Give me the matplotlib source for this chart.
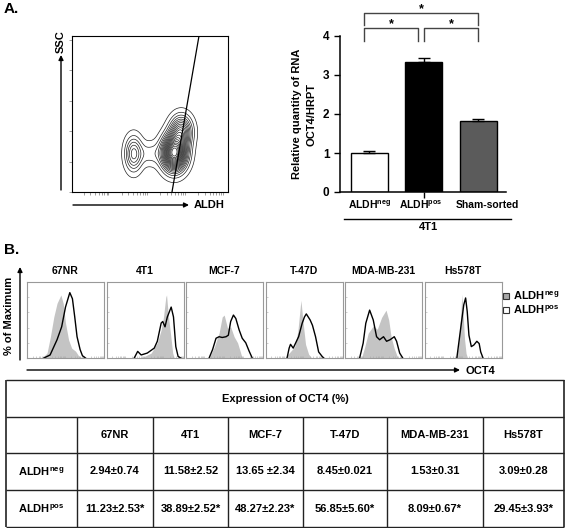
import numpy as np
import matplotlib.pyplot as plt

plt.rcParams['font.family'] = ['Liberation Sans', 'DejaVu Sans']
plt.rcParams['font.weight'] = 'bold'
plt.rcParams['mathtext.fontset'] = 'custom'
plt.rcParams['mathtext.rm'] = 'Liberation Sans:bold'
plt.rcParams['mathtext.it'] = 'Liberation Sans:bold'
plt.rcParams['mathtext.bf'] = 'Liberation Sans:bold'

W, H = 567, 528

# ---- panel A : flow plot (ALDH vs SSC), blobs ----
blob_x = [395, 655, 700, 500]
blob_y = [245, 250, 390, 245]
blob_sx = [36, 50, 45, 50]
blob_sy = [72, 72, 65, 50]
blob_w = [0.3, 1.0, 0.45, 0.1]
gate_x = [641, 814]
gate_y = [0, 1000]

# ---- panel A : qPCR bars ----
groups = ['ALDH$^{\\mathrm{neg}}$', 'ALDH$^{\\mathrm{pos}}$', 'Sham-sorted']
rel_rna = [1.01, 3.33, 1.83]
rel_err = [0.03, 0.11, 0.05]
bar_colors = ['white', 'black', '#5b5b5b']
br_left = [-0.1, 1.0, -0.1]
br_right = [0.9, 2.0, 2.0]
br_y = [4.2, 4.2, 4.6]

# ---- panel B : OCT4 histograms (x, y in % of panel) ----
cell_lines = ['67NR', '4T1', 'MCF-7', 'T-47D', 'MDA-MB-231', 'Hs578T']
neg_x = [[19.6, 26, 30.4, 34.8, 39, 44, 47, 50, 54, 58, 63, 67, 72],
         [45, 58, 66, 71, 74, 77, 78, 80, 83, 86, 88],
         [30, 37, 43, 47, 49.6, 54, 58, 62.5, 67, 71, 73],
         [25, 32, 38, 42, 46, 49, 52, 56, 60],
         [21.4, 25.8, 30.1, 36.7, 41.9, 47.6, 53.3, 56.8, 59.8, 63.8, 68.1, 69.9],
         [41, 44, 47, 48.5, 50, 52, 54, 56]]
neg_y = [[0, 6.5, 28, 54, 72, 83, 72, 46, 24, 13, 9, 3, 0],
         [0, 6.5, 20, 37, 54, 80, 83, 59, 33, 6.5, 0],
         [0, 15, 33, 54, 56.5, 39, 41, 28, 20, 6.5, 0],
         [0, 8, 15, 35, 76, 45, 18, 5, 0],
         [0, 15.2, 32.6, 42.2, 37.8, 53.5, 63, 50, 28.3, 13, 1.3, 0],
         [0, 15, 55, 84, 60, 25, 6, 0]]
pos_x = [[22, 30, 39, 45, 50, 55.6, 59, 62, 65, 69, 72, 76],
         [36, 40.5, 45, 53, 62, 66, 71, 73, 76, 79, 84, 87, 90, 93, 96.5],
         [30, 34.5, 39, 43, 47, 52, 55, 58, 61.6, 64.7, 69, 73, 77.6, 82, 86],
         [28, 30.7, 32.5, 36, 43, 47.6, 50.6, 53, 58, 61, 65, 69, 73.6, 75.7],
         [19, 23.6, 27, 32, 36.7, 41, 45, 50, 54, 58.5, 64, 67, 71, 75],
         [42, 47, 51, 53.4, 55.5, 57.7, 60.8, 64, 68, 71, 73, 76]]
pos_y = [[0, 4, 24, 41, 67, 86, 78, 54, 28, 11, 3, 0],
         [0, 8.7, 4, 6.5, 13, 22, 46, 48, 41, 54, 67, 54, 15, 2, 0],
         [0, 11, 26, 28, 27, 28, 30, 48, 56.5, 52, 37, 26, 20, 9, 0],
         [0, 13, 18, 13, 28, 45.6, 54, 58, 50, 43, 28, 8, 2, 0],
         [0, 19.6, 45.7, 63, 50, 28, 24, 28, 22, 24, 28, 22, 6.5, 0],
         [0, 39, 70, 79, 61, 30, 15, 17, 22, 19, 8, 0]]

# ---- table ----
row_labels = ['ALDH$^{\\mathrm{neg}}$', 'ALDH$^{\\mathrm{pos}}$']
neg_vals = ['2.94±0.74', '11.58±2.52', '13.65 ±2.34', '8.45±0.021', '1.53±0.31', '3.09±0.28']
pos_vals = ['11.23±2.53*', '38.89±2.52*', '48.27±2.23*', '56.85±5.60*', '8.09±0.67*', '29.45±3.93*']


def box(x0, y0, x1, y1):
    # pixel box, top-left origin -> figure fraction
    return [x0 / W, 1 - y1 / H, (x1 - x0) / W, (y1 - y0) / H]


fig = plt.figure(figsize=(W / 100, H / 100), dpi=100)

# flow contour
ax1 = fig.add_axes(box(72, 36, 228, 192))
gx, gy = np.meshgrid(np.linspace(0, 1000, 300), np.linspace(0, 1000, 300))
dens = np.zeros_like(gx)
for cx, cy, sx, sy, w in zip(blob_x, blob_y, blob_sx, blob_sy, blob_w):
    dens += w * np.exp(-0.5 * ((gx - cx) / sx) ** 2 - 0.5 * ((gy - cy) / sy) ** 2)
ax1.contour(gx, gy, dens, levels=np.linspace(0.03, 0.95, 20) * dens.max(),
            colors='#222222', linewidths=0.5)
ax1.plot(gate_x, gate_y, color='black', lw=0.9)
ax1.set_xlim(0, 1000)
ax1.set_ylim(0, 1000)
ax1.set_yticks([0, 195, 390, 585, 780, 975])
dec = [0, 245, 490, 735]
minor = [d + 245 * np.log10(k) for d in dec for k in range(2, 10)]
ax1.set_xticks(minor)
ax1.tick_params(labelleft=False, labelbottom=False, length=2, width=0.5, color='#777777')
for s in ax1.spines.values():
    s.set_linewidth(0.8)

# bar chart
ax2 = fig.add_axes(box(340, 36, 506, 192))
xs = np.arange(len(rel_rna))
ax2.bar(xs, rel_rna, width=0.68, color=bar_colors, edgecolor='black', linewidth=1)
ax2.errorbar(xs, rel_rna, yerr=[np.zeros(3), rel_err], fmt='none', ecolor='black',
             elinewidth=1, capsize=4, capthick=1)
ax2.set_xlim(-0.54, 2.51)
ax2.set_ylim(0, 4)
ax2.set_yticks([0, 1, 2, 3, 4])
ax2.set_xticks([1])
ax2.set_xticklabels([])
ax2.tick_params(axis='y', labelsize=8.5, length=4, width=1)
ax2.tick_params(axis='x', length=4, width=1)
for s in ['top', 'right']:
    ax2.spines[s].set_visible(False)
for s in ['left', 'bottom']:
    ax2.spines[s].set_linewidth(1.1)
ax2.set_ylabel('Relative quantity of RNA\nOCT4/HRPT', fontsize=8, fontweight='bold',
               labelpad=5, linespacing=1.5)
for l, r, y in zip(br_left, br_right, br_y):
    ax2.plot([l, l, r, r], [y - 0.33, y, y, y - 0.33], color='#444444', lw=1, clip_on=False)
    ax2.text((l + r) / 2, y + 0.1, '*', ha='center', va='center', fontsize=9, clip_on=False)
label_x = [0, 0.94, 2.17]
for lx, g in zip(label_x, groups):
    ax2.text(lx, -0.33, g, ha='center', va='center', fontsize=7.5)
ax2.plot([-0.47, 2.61], [-0.69, -0.69], color='black', lw=1, clip_on=False)
ax2.text(1.08, -0.89, '4T1', ha='center', va='center', fontsize=8)

# histograms
p_left = [27, 106.5, 186, 265.5, 345, 424.5]
for i, name in enumerate(cell_lines):
    ax = fig.add_axes(box(p_left[i], 282, p_left[i] + 77, 358))
    ax.fill_between(neg_x[i], neg_y[i], color='#c4c4c4', lw=0)
    ax.plot(pos_x[i], pos_y[i], color='black', lw=1)
    ax.set_xlim(0, 100)
    ax.set_ylim(0, 100)
    ax.set_yticks([20, 40, 60, 80])
    ax.set_xticks([d + 25 * np.log10(k) for d in [0, 25, 50, 75] for k in range(2, 10)])
    ax.tick_params(direction='in', length=1.5, width=0.4, color='#aaaaaa',
                   labelleft=False, labelbottom=False)
    for s in ax.spines.values():
        s.set_color('#999999')
        s.set_linewidth(0.8)
    ax.set_title(name, fontsize=7.5, fontweight='bold', pad=6)

# overlay in pixel coordinates: labels, arrows, legend, table
ov = fig.add_axes([0, 0, 1, 1])
ov.set_xlim(0, W)
ov.set_ylim(H, 0)
ov.axis('off')

arr = dict(arrowstyle='-|>', lw=1, color='black', mutation_scale=7, shrinkA=0, shrinkB=0)
ov.text(4, 9, 'A.', fontsize=11, ha='left', va='center')
ov.text(4, 250, 'B.', fontsize=11, ha='left', va='center')
ov.annotate('', xy=(61, 55), xytext=(61, 190), arrowprops=arr)
ov.text(61, 42, 'SSC', rotation=90, fontsize=8, ha='center', va='center')
ov.annotate('', xy=(189, 205), xytext=(73, 205), arrowprops=arr)
ov.text(194, 205, 'ALDH', fontsize=8, ha='left', va='center')

ov.annotate('', xy=(20, 267), xytext=(20, 360), arrowprops=arr)
ov.text(9, 316, '% of Maximum', rotation=90, fontsize=8, ha='center', va='center')
ov.annotate('', xy=(460, 370), xytext=(27, 370), arrowprops=arr)
ov.text(465, 371, 'OCT4', fontsize=8, ha='left', va='center')

leg_y = [296, 310]
leg_fc = ['#a8a8a8', 'white']
for y, fc, lab in zip(leg_y, leg_fc, row_labels):
    ov.add_patch(plt.Rectangle((503, y - 3), 6, 6, facecolor=fc, edgecolor='#333333', lw=0.8))
    ov.text(513, y, lab, fontsize=8, ha='left', va='center')

col_edges = [6, 77, 153, 228, 303, 387, 483, 564]
row_edges = [380, 417, 453, 490, 527]
ov.hlines(row_edges, col_edges[0], col_edges[-1], color='#222222', lw=1)
ov.vlines([col_edges[0], col_edges[-1]], row_edges[0], row_edges[-1], color='#222222', lw=1.2)
ov.vlines(col_edges[1:-1], row_edges[1], row_edges[-1], color='#222222', lw=1)
ov.text((col_edges[0] + col_edges[-1]) / 2, (row_edges[0] + row_edges[1]) / 2,
        'Expression of OCT4 (%)', fontsize=8, ha='center', va='center')
cx = [(a + b) / 2 for a, b in zip(col_edges[:-1], col_edges[1:])]
ry = [(a + b) / 2 for a, b in zip(row_edges[1:-1], row_edges[2:])]
for j, name in enumerate(cell_lines):
    ov.text(cx[j + 1], ry[0], name, fontsize=8, ha='center', va='center')
    ov.text(cx[j + 1], ry[1], neg_vals[j], fontsize=8, ha='center', va='center')
    ov.text(cx[j + 1], ry[2], pos_vals[j], fontsize=8, ha='center', va='center')
ov.text(cx[0], ry[1], row_labels[0], fontsize=8, ha='center', va='center')
ov.text(cx[0], ry[2], row_labels[1], fontsize=8, ha='center', va='center')

fig.savefig('out.png', dpi=100)
